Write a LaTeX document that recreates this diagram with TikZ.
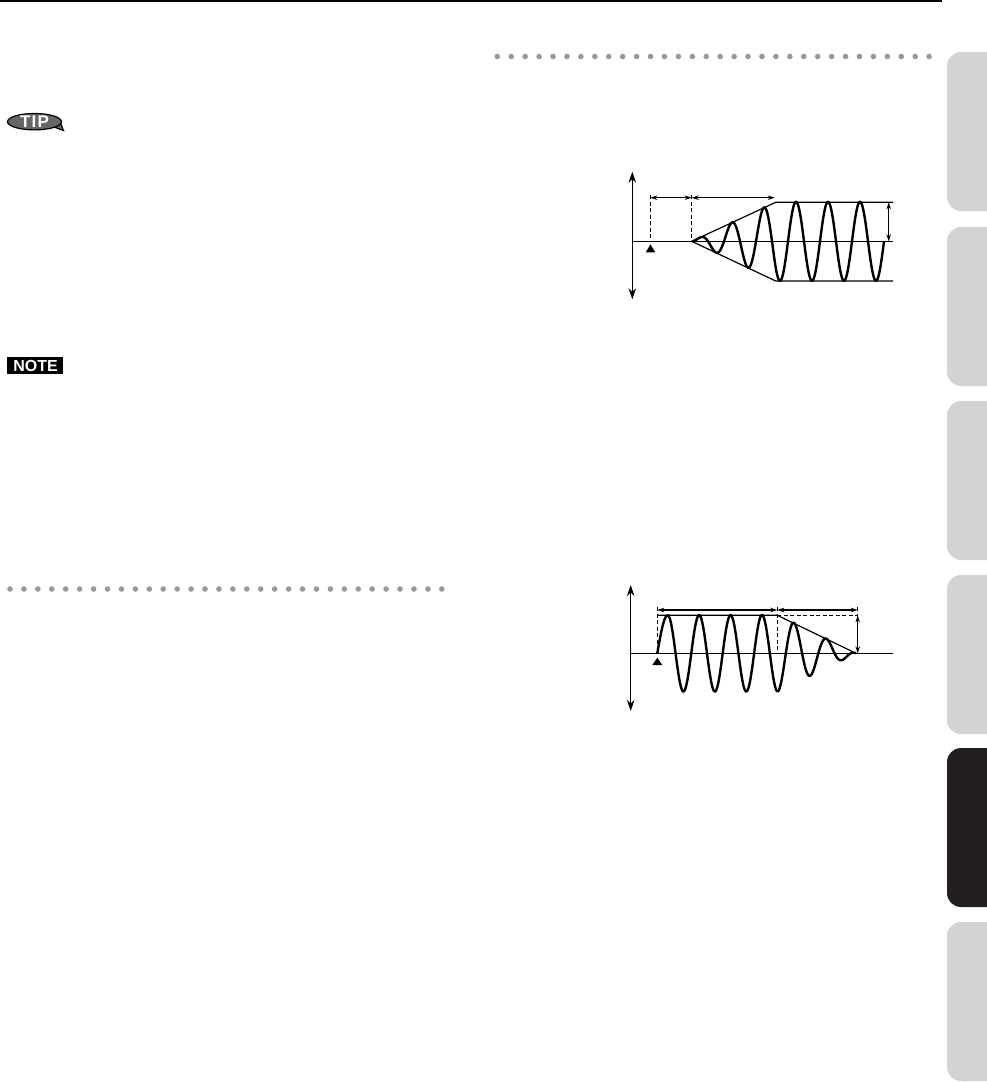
\documentclass[tikz,border=0pt]{standalone}
\usepackage{fontspec}
\setsansfont{Liberation Sans}
\usetikzlibrary{arrows.meta}
\definecolor{tabgray}{HTML}{D3D3D3}
\definecolor{tabblack}{HTML}{231F20}
\definecolor{dotgray}{HTML}{999999}
\tikzset{
	axisline/.style={line width=1.3pt,{Stealth[length=11pt,width=7.5pt]}-{Stealth[length=11pt,width=7.5pt]}},
	dimline/.style={line width=1.1pt,{Stealth[length=7pt,width=4.5pt]}-{Stealth[length=7pt,width=4.5pt]}},
	guide/.style={line width=1pt,dash pattern=on 4pt off 2.5pt},
	hull/.style={line width=1.2pt},
	wave/.style={line width=2.4pt,line join=round,smooth},
	badge/.style={text=white,inner sep=0pt}
}
\begin{document}
\begin{tikzpicture}[>=stealth,x=1pt,y=-1pt]
	\useasboundingbox (0,0) rectangle (987,1082);
	\fill[white] (0,0) rectangle (987,1082);
	\draw[line width=2pt] (0,1) -- (942,1);
	% side tabs
	\foreach \t/\c in {52/tabgray,227/tabgray,401/tabgray,575/tabgray,748/tabblack,922/tabgray}
		\fill[\c] (987,\t) [rounded corners=14pt] -- (947,\t) -- (947,\t+159) [sharp corners] -- (987,\t+159) -- cycle;
	% dotted rules
	\foreach \i in {0,...,31} {
		\fill[dotgray] ({497.3+13.93*\i},56.5) circle (2.8);
		\fill[dotgray] ({10+13.93*\i},589) circle (2.8);
	}
	% badges
	\fill[black] (7.3,357.3) rectangle (62.7,374);
	\node[badge,font=\sffamily\bfseries\fontsize{16}{16}\selectfont] (notemark) at (35.5,365.7) {NOTE};
	\draw[black,fill=black!60,line width=1.2pt] (54,127) -- (63.5,130.5) -- (60,122) -- cycle;
	\draw[black,fill=black!60,line width=1.2pt] (34.5,121.7) ellipse (27 and 8.2);
	\node[badge,font=\sffamily\bfseries\fontsize{17}{17}\selectfont] (tipmark) at (34.5,121.7) {T\kern1.2pt I\kern1.2pt P};
	% upper graph
	\draw[axisline] (632.3,171.7) -- (632.3,299.3);
	\draw[hull] (632.3,241.3) -- (893,241.3);
	\draw[guide] (650.3,195) -- (650.3,241.3)  (691.7,195) -- (691.7,241.3);
	\draw[dimline] (650.3,197.7) -- (691.7,197.7);
	\draw[dimline] (691.7,197.7) -- (774.7,197.7);
	\draw[hull] (691.7,241.3) -- (775.7,202.3) -- (893,202.3);
	\draw[hull] (691.7,241.3) -- (775.7,281) -- (893,281);
	\draw[dimline] (888.7,202.3) -- (888.7,241.3);
	\fill (650.4,244.3) -- (655.3,252.3) -- (645.8,252.3) -- cycle;
	\draw[wave,domain=0:192,samples=300]
	plot ({692+\x},{241.3-39.5*min(1,\x/84)*sin(11.25*\x)});
	% lower graph
	\draw[axisline] (630.7,585) -- (630.7,711);
	\draw[hull] (630.7,653.3) -- (893,653.3);
	\draw[guide] (657.3,607) -- (657.3,653.3)  (777.3,607) -- (777.3,653.3);
	\draw[guide] (777.3,615.3) -- (857.7,615.3)  (857.7,607) -- (857.7,615.3);
	\draw[dimline] (657.3,610) -- (777.3,610);
	\draw[dimline] (777.3,610) -- (857.7,610);
	\draw[hull] (658,615.3) -- (777.3,615.3) -- (856,653.3);
	\draw[dimline] (857.7,615.3) -- (857.7,653.3);
	\fill (657.3,657.7) -- (662.3,665) -- (652.3,665) -- cycle;
	\draw[wave,domain=0:10.4,samples=20]
	plot ({657.3+\x},{653.3-38*sin(8.654*\x)});
	\draw[wave,domain=0:110,samples=200]
	plot ({667.7+\x},{653.3-38.2*cos(11.455*\x)});
	\draw[wave,domain=0:78.3,samples=150]
	plot ({777.7+\x},{653.3+38.4*(1-\x/78.3)*cos(11.08*\x)});
\end{tikzpicture}
\end{document}
